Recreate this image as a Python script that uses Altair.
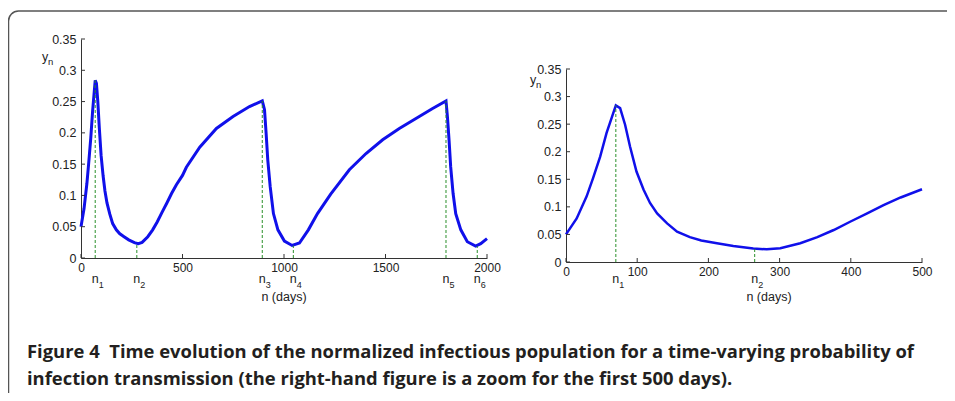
import altair as alt
import pandas as pd

# ---------------- data ----------------
days = [0, 15, 29, 38, 48, 57, 64, 70, 76, 83,
        90, 99, 109, 118, 128, 142, 156, 174, 190, 212,
        235, 263, 282, 301, 329, 353, 376, 399, 423, 446,
        470, 500, 519, 585, 667, 749, 830, 893, 904, 912,
        920, 932, 948, 970, 1002, 1040, 1076, 1120, 1165, 1230,
        1322, 1404, 1486, 1568, 1650, 1732, 1798, 1805, 1813, 1821,
        1833, 1846, 1871, 1903, 1944, 1969, 2000]
infectious = [0.050, 0.079, 0.119, 0.152, 0.191, 0.234, 0.261, 0.284, 0.279, 0.249,
              0.209, 0.164, 0.131, 0.107, 0.088, 0.070, 0.055, 0.045, 0.039, 0.034,
              0.029, 0.0245, 0.023, 0.025, 0.034, 0.045, 0.058, 0.073, 0.088, 0.103,
              0.117, 0.132, 0.145, 0.177, 0.207, 0.226, 0.242, 0.251, 0.237, 0.199,
              0.157, 0.114, 0.071, 0.045, 0.027, 0.020, 0.024, 0.045, 0.071, 0.102,
              0.141, 0.167, 0.189, 0.207, 0.223, 0.239, 0.251, 0.226, 0.189, 0.146,
              0.103, 0.071, 0.045, 0.026, 0.019, 0.023, 0.031]

left_marker_days = [70, 275, 893, 1046, 1798, 1952]
left_marker_vals = [0.284, 0.023, 0.251, 0.020, 0.251, 0.019]
left_marker_labels = ["1", "2", "3", "4", "5", "6"]

right_marker_days = [70, 265]
right_marker_vals = [0.284, 0.0245]
right_marker_labels = ["1", "2"]

left_x_ticks = [0, 500, 1000, 1500, 2000]
right_x_ticks = [0, 100, 200, 300, 400, 500]
y_ticks = [0, 0.05, 0.1, 0.15, 0.2, 0.25, 0.3, 0.35]

x_title = "n (days)"
y_title_main = "y"
y_title_sub = "n"
caption = ("Figure 4\u00a0\u00a0Time evolution of the normalized infectious population for a time-varying probability of\n"
           "infection transmission (the right-hand figure is a zoom for the first 500 days).")

# ---------------- styling ----------------
BLUE = "#1010ea"
GREEN = "#2a8f2a"
AXIS = "#333333"
TEXT = "#222222"
FRAME = "#555555"
FONT = "Liberation Sans"

curve_df = pd.DataFrame({"n": days, "y": infectious})
one = pd.DataFrame({"k": [0]})


def panel(w, h, top, xmax, xticks, cdf, mdays, mvals, mlabels, sw,
          n_dy, sub_dy, title_x, ytitle_x, ytitle_y):
    xs = alt.Scale(domain=[0, xmax], nice=False, zero=False)
    ys = alt.Scale(domain=[0, 0.35], nice=False, range=[h, top])
    xaxis = alt.Axis(values=xticks, labelExpr="'' + datum.value", ticks=False, grid=False,
                     title=None, domainColor=AXIS, labelFont=FONT, labelFontSize=12,
                     labelColor=TEXT, labelPadding=4, labelFlush=False, labelOverlap=False)
    yaxis = alt.Axis(values=y_ticks, labelExpr="'' + datum.value", ticks=False, grid=False,
                     title=None, domainColor=AXIS, labelFont=FONT, labelFontSize=12.5,
                     labelColor=TEXT, labelPadding=5, labelFlush=False, labelOverlap=False)

    def X(f):
        return alt.X(f, scale=xs, axis=xaxis)

    def Y(f):
        return alt.Y(f, scale=ys, axis=yaxis)

    curve = alt.Chart(cdf).mark_line(color=BLUE, strokeWidth=sw).encode(
        x=X("n:Q"), y=Y("y:Q"))

    mdf = pd.DataFrame({"n": mdays, "y": mvals, "lab": mlabels,
                        "base": [0.0] * len(mdays)})
    dashes = alt.Chart(mdf).mark_rule(color=GREEN, strokeDash=[3, 2], strokeWidth=1).encode(
        x=X("n:Q"), y=Y("base:Q"), y2="y:Q")
    n_txt = alt.Chart(mdf).mark_text(font=FONT, fontSize=12.5, align="center",
                                     baseline="alphabetic", color=TEXT).encode(
        x=X("n:Q"), y=alt.value(h + n_dy), text=alt.value("n"))
    sub_txt = alt.Chart(mdf).mark_text(font=FONT, fontSize=9, align="left", dx=3.5,
                                       baseline="alphabetic", color=TEXT).encode(
        x=X("n:Q"), y=alt.value(h + sub_dy), text="lab:N")

    xt = alt.Chart(pd.DataFrame({"t": xticks})).mark_rule(color=AXIS, strokeWidth=1).encode(
        x=X("t:Q"), y=alt.value(h), y2=alt.value(h - 4))
    yt = alt.Chart(pd.DataFrame({"t": y_ticks})).mark_rule(color=AXIS, strokeWidth=1).encode(
        y=Y("t:Q"), x=alt.value(0), x2=alt.value(4))

    xtitle = alt.Chart(one).mark_text(font=FONT, fontSize=12.5, align="center",
                                      baseline="alphabetic", color=TEXT).encode(
        x=alt.value(title_x), y=alt.value(261.5), text=alt.value(x_title))
    ytm = alt.Chart(one).mark_text(font=FONT, fontSize=12.5, align="left",
                                   baseline="alphabetic", color=TEXT).encode(
        x=alt.value(ytitle_x), y=alt.value(ytitle_y), text=alt.value(y_title_main))
    yts = alt.Chart(one).mark_text(font=FONT, fontSize=9.5, align="left",
                                   baseline="alphabetic", color=TEXT).encode(
        x=alt.value(ytitle_x + 6), y=alt.value(ytitle_y + 4), text=alt.value(y_title_sub))

    return [curve, dashes, n_txt, sub_txt, xt, yt, xtitle, ytm, yts]


left_layers = panel(406, 219, 0, 2000, left_x_ticks, curve_df,
                    left_marker_days, left_marker_vals, left_marker_labels, 3,
                    25, 30, 203, -39, 22)
right_layers = panel(356, 223, 30, 500, right_x_ticks, curve_df[curve_df["n"] <= 500],
                     right_marker_days, right_marker_vals, right_marker_labels, 2.5,
                     21, 26, 203, -36, 45)

# rounded frame (decoration) drawn as one open path, in the left panel's pixel space;
# it runs past the picture's right and bottom edges, as in the reference
frame_path = "M 0 420 L 0 10 A 10 10 0 0 1 10 0 L 1000 0"
frame = alt.Chart(one).mark_point(shape=frame_path, size=4, filled=False, opacity=1,
                                  stroke=FRAME, strokeWidth=1.5).encode(
    x=alt.value(-72.5), y=alt.value(-28))
cap = alt.Chart(one).mark_text(font="Open Sans", fontWeight="bold", fontSize=18.4, align="left",
                               baseline="alphabetic", lineBreak="\n", lineHeight=26.7,
                               color="#231f20").encode(
    x=alt.value(-54), y=alt.value(319), text=alt.value(caption))

left = alt.layer(frame, cap, *left_layers).properties(width=406, height=219)
right = alt.layer(*right_layers).properties(width=356, height=223)

chart = alt.hconcat(left, right, spacing=79, bounds="flush").properties(
    autosize=alt.AutoSizeParams(type="none"),
    padding={"left": 73, "top": 31, "right": 866, "bottom": 354},
    background="white",
).configure_view(strokeWidth=0)

chart.save("out.html", embed_options={"renderer": "svg", "actions": False})
